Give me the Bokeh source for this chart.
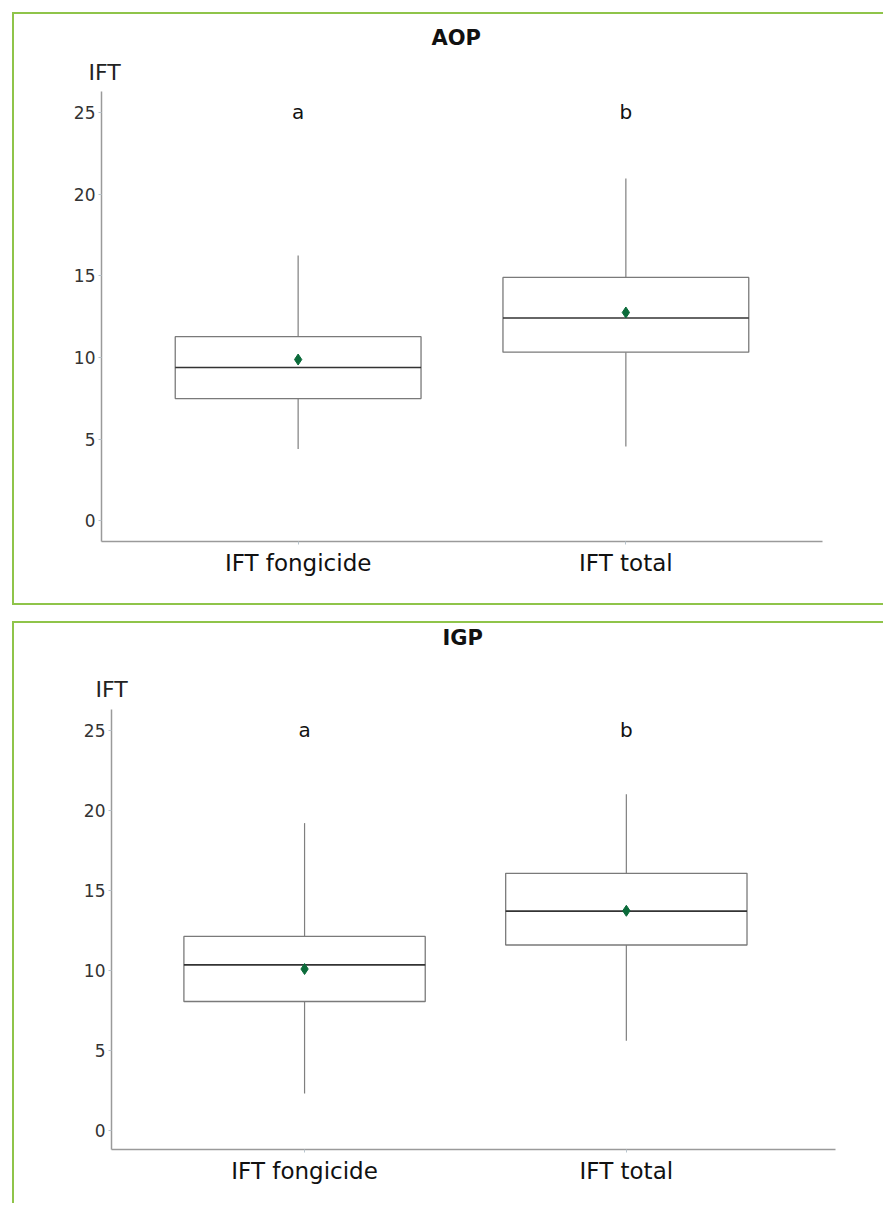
from bokeh.plotting import figure
from bokeh.models import Range1d, FixedTicker, Title, ColumnDataSource
from bokeh.layouts import column
from bokeh.core.properties import value
from bokeh.embed import file_html
from bokeh.resources import INLINE

groups = ["IFT fongicide", "IFT total"]
letters = ["a", "b"]
yticks = [0, 5, 10, 15, 20, 25]

aop_low = [4.4, 4.55]
aop_q1 = [7.48, 10.32]
aop_median = [9.38, 12.41]
aop_q3 = [11.27, 14.90]
aop_high = [16.24, 20.96]
aop_mean = [9.87, 12.75]

igp_low = [2.3, 5.6]
igp_q1 = [8.05, 11.58]
igp_median = [10.34, 13.70]
igp_q3 = [12.12, 16.06]
igp_high = [19.2, 21.0]
igp_mean = [10.08, 13.72]

FONT = "DejaVu Sans"
GREEN = "#8fc44a"
BOXW = 0.75
W = 869


def panel(title, low, q1, med, q3, high, mean, H, fl, fr, ft, fb, y0, y1, x1,
          ift_off, ift_stand, title_off, title_stand, shift=0):
    p = figure(width=W, height=H, output_backend="svg", toolbar_location=None,
               x_range=Range1d(-0.1, x1), y_range=Range1d(y0, y1),
               min_border_left=fl, min_border_right=fr, min_border_top=ft,
               min_border_bottom=fb, margin=(shift, 0, 0, 0))
    p.outline_line_color = None
    p.border_fill_color = None
    p.grid.visible = False
    xs = [0.5 + i for i in range(len(groups))]
    src = ColumnDataSource(dict(
        x=xs, low=low, q1=q1, med=med, q3=q3, high=high, mean=mean,
        xl=[x - BOXW / 2 for x in xs], xr=[x + BOXW / 2 for x in xs],
        lt=letters, ly=[25] * len(xs)))
    p.segment("x", "q3", "x", "high", source=src, line_color="#7f7f7f", line_width=1.2)
    p.segment("x", "low", "x", "q1", source=src, line_color="#7f7f7f", line_width=1.2)
    p.vbar(x="x", width=BOXW, bottom="q1", top="q3", source=src,
           fill_color="white", line_color="#7a7a7a", line_width=1.3)
    p.segment("xl", "med", "xr", "med", source=src, line_color="#333333", line_width=1.6)
    p.scatter("x", "mean", source=src, marker="diamond", size=11,
              fill_color="#0b6b3a", line_color="#0b6b3a")
    p.text("x", "ly", text="lt", source=src, text_align="center",
           text_baseline="middle", text_font=value(FONT),
           text_font_size="20px", text_color="#111111")

    p.xaxis.ticker = FixedTicker(ticks=xs)
    p.xaxis.major_label_overrides = {x: g for x, g in zip(xs, groups)}
    p.xaxis.major_label_text_font = FONT
    p.xaxis.major_label_text_font_size = "23px"
    p.xaxis.major_label_text_color = "#111111"
    p.xaxis.major_label_standoff = 5
    p.yaxis.ticker = FixedTicker(ticks=yticks)
    p.yaxis.major_label_text_font = FONT
    p.yaxis.major_label_text_font_size = "17px"
    p.yaxis.major_label_text_color = "#333333"
    p.yaxis.major_label_standoff = 3
    for ax in (p.xaxis, p.yaxis):
        ax.axis_line_color = "#9a9a9a"
        ax.axis_line_width = 1.5
        ax.major_tick_line_color = "#b8c4cc"
        ax.major_tick_out = 3
        ax.major_tick_in = 0
        ax.minor_tick_line_color = None

    p.add_layout(Title(text="IFT", align="left", offset=ift_off, standoff=ift_stand,
                       text_font=FONT, text_font_size="22px",
                       text_font_style="normal", text_color="#222222"), "above")
    p.add_layout(Title(text=title, align="left", offset=title_off, standoff=title_stand,
                       text_font=FONT, text_font_size="21px",
                       text_font_style="bold", text_color="#111111"), "above")
    return p


p1 = panel("AOP", aop_low, aop_q1, aop_median, aop_q3, aop_high, aop_mean,
           589, 87, 61, 77, 62, -1.27, 26.28, 2.1, -13, 14, 330, 2)
p2 = panel("IGP", igp_low, igp_q1, igp_median, igp_q3, igp_high, igp_mean,
           598, 97, 48, 104, 54, -1.2, 26.3, 2.15, -16, 16, 331, 33, shift=-18)

box1 = column(p1, margin=(12, 0, 0, 12),
              styles={"border-left": f"2px solid {GREEN}",
                      "border-top": f"2px solid {GREEN}",
                      "border-bottom": f"2px solid {GREEN}"})
box2 = column(p2, margin=(16, 0, 0, 12),
              styles={"border-left": f"2px solid {GREEN}",
                      "border-top": f"2px solid {GREEN}"})

layout = column(box1, box2, spacing=0)
open("out.html", "w").write(file_html(layout, INLINE))
